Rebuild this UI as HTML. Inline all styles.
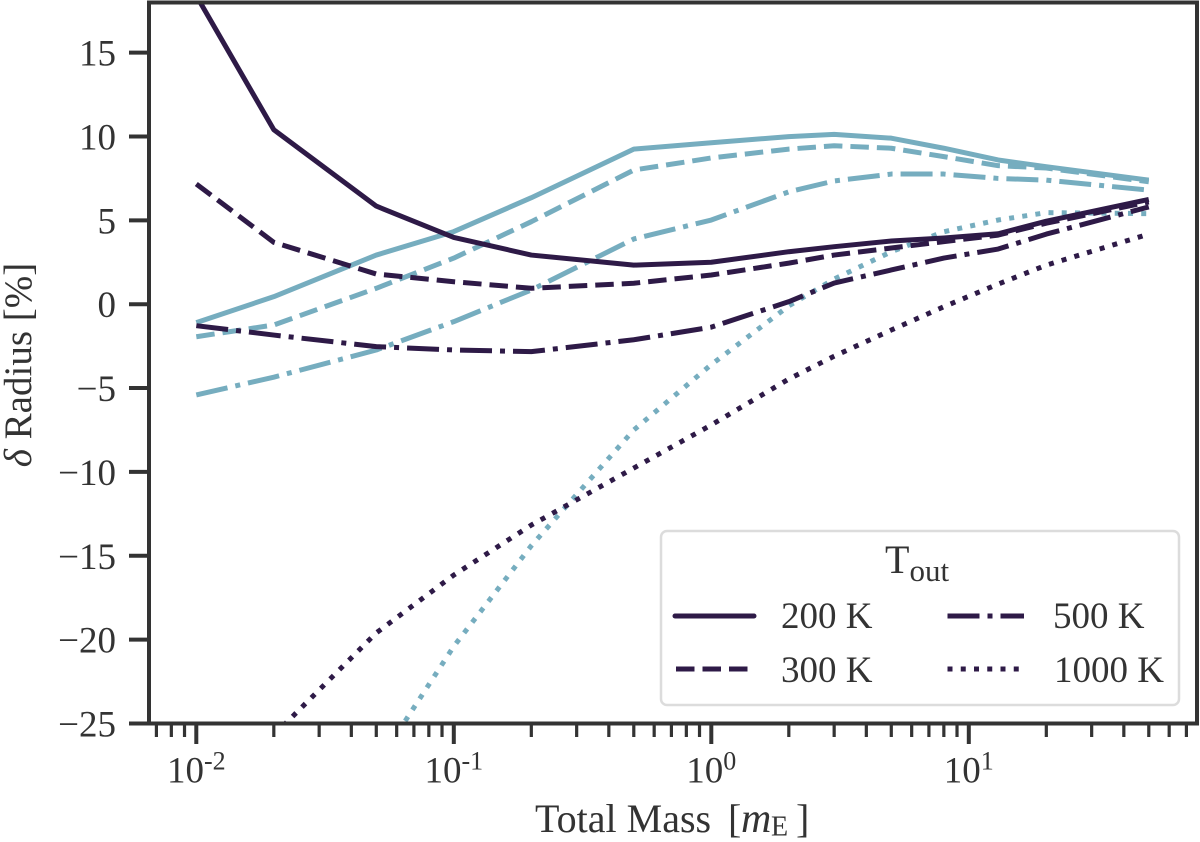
<!DOCTYPE html>
<html lang="en">
<head>
<meta charset="utf-8">
<title>Delta Radius vs Total Mass</title>
<style>
html,body{margin:0;padding:0;background:#fff;width:1200px;height:842px;overflow:hidden}
svg{display:block}
text{font-family:"Liberation Serif",serif;fill:#333}
</style>
</head>
<body>
<svg id="chart" xmlns="http://www.w3.org/2000/svg" width="1200" height="842" viewBox="0 0 1200 842">
<defs><clipPath id="plot-clip"><rect x="149" y="2.5" width="1048" height="721"/></clipPath></defs>
<rect x="0" y="0" width="1200" height="842" fill="#fff"/>
<g id="series" clip-path="url(#plot-clip)"></g>
<g id="ticks"></g>
<rect x="149" y="2.5" width="1048" height="721" fill="none" stroke="#333" stroke-width="4"/>
<text transform="translate(31,365) rotate(-90)" text-anchor="middle" font-size="39"><tspan font-style="italic">δ</tspan> Radius [%]</text>
<text x="535" y="832" font-size="40">Total Mass <tspan x="728">[</tspan><tspan font-style="italic" x="741" font-size="42">m</tspan><tspan font-size="28" x="771" y="835.5">E</tspan><tspan x="796" y="832">]</tspan></text>
<g>
<rect x="661" y="531" width="518" height="174" rx="6" fill="#fff" fill-opacity="0.9" stroke="#dcdcdc" stroke-width="2.5"/>
<text x="885" y="573" font-size="40">T<tspan font-size="31" dy="8">out</tspan></text>
<line x1="675" y1="616" x2="754" y2="616" stroke="#2e1a47" stroke-width="5" stroke-linecap="round"/>
<text x="781" y="628" font-size="37">200 K</text>
<line x1="676" y1="669" x2="750" y2="669" stroke="#2e1a47" stroke-width="5" stroke-dasharray="18.5 8"/>
<text x="781" y="682" font-size="37">300 K</text>
<line x1="947.5" y1="616" x2="1024" y2="616" stroke="#2e1a47" stroke-width="5" stroke-dasharray="32 8 5 8"/>
<text x="1053" y="628" font-size="37">500 K</text>
<line x1="947.5" y1="669" x2="1022" y2="669" stroke="#2e1a47" stroke-width="5" stroke-dasharray="5 8.25"/>
<text x="1054" y="682" font-size="37">1000 K</text>
</g>
</svg>
<script>
const masses = [0.01, 0.02, 0.05, 0.1, 0.2, 0.5, 1, 2, 3, 5, 8, 13, 20, 50];
const dark200 = [18.4, 10.4, 5.85, 3.98, 2.93, 2.33, 2.5, 3.13, 3.43, 3.77, 3.95, 4.2, 4.95, 6.25];
const dark300 = [7.17, 3.69, 1.8, 1.34, 0.95, 1.25, 1.74, 2.45, 2.93, 3.35, 3.73, 4.12, 4.83, 6.1];
const dark500 = [-1.28, -1.84, -2.53, -2.73, -2.83, -2.12, -1.37, 0.15, 1.26, 2.04, 2.75, 3.29, 4.18, 5.8];
const dark1000 = [null, -25.7, -19.6, -16.15, -13.17, -9.77, -7.2, -4.46, -3.1, -1.54, -0.15, 1.2, 2.33, 4.18];
const teal200 = [-1.1, 0.45, 2.93, 4.33, 6.35, 9.25, 9.63, 9.99, 10.13, 9.9, 9.3, 8.6, 8.2, 7.4];
const teal300 = [-1.94, -1.24, 0.95, 2.75, 4.92, 8.0, 8.72, 9.25, 9.45, 9.3, 8.8, 8.26, 8.12, 7.3];
const teal500 = [-5.41, -4.35, -2.73, -1.04, 0.85, 3.89, 5.02, 6.7, 7.35, 7.76, 7.76, 7.5, 7.4, 6.8];
const teal1000 = [null, null, -27.5, -20.4, -14.4, -7.5, -3.6, -0.1, 1.5, 3.13, 4.32, 5.02, 5.46, 5.4];
const yTickValues = [15, 10, 5, 0, -5, -10, -15, -20, -25];
const xDecades = [-2, -1, 0, 1];
const xMinorValues = [0.007, 0.008, 0.009, 0.02, 0.03, 0.04, 0.05, 0.06, 0.07, 0.08, 0.09, 0.2, 0.3, 0.4, 0.5, 0.6, 0.7, 0.8, 0.9, 2, 3, 4, 5, 6, 7, 8, 9, 20, 30, 40, 50, 60, 70];

const SVG_NS = 'http://www.w3.org/2000/svg';
const DARK = '#2e1a47';
const TEAL = '#76adbf';
const DASH = { solid: '', dashed: '18.5 8', dashdot: '32 8 5 8', dotted: '5 8.25' };

function xPos(m) { return 196.3 + 257.5 * (Math.log10(m) + 2); }
function yPos(v) { return 304.2 - 16.77 * v; }

function make(tag, attrs, parent) {
  const el = document.createElementNS(SVG_NS, tag);
  for (const k in attrs) el.setAttribute(k, attrs[k]);
  parent.appendChild(el);
  return el;
}

const seriesGroup = document.getElementById('series');
const tickGroup = document.getElementById('ticks');

function drawSeries(values, color, style, name) {
  const coords = [];
  values.forEach(function (v, i) {
    if (v !== null) coords.push(xPos(masses[i]).toFixed(2) + ',' + yPos(v).toFixed(2));
  });
  const line = make('polyline', { points: coords.join(' '), fill: 'none', stroke: color, 'stroke-width': 5, 'stroke-linejoin': 'round' }, seriesGroup);
  if (DASH[style]) line.setAttribute('stroke-dasharray', DASH[style]);
  
  
}

drawSeries(teal200, TEAL, 'solid', 'line-200k-teal');
drawSeries(teal300, TEAL, 'dashed', 'line-300k-teal');
drawSeries(teal500, TEAL, 'dashdot', 'line-500k-teal');
drawSeries(teal1000, TEAL, 'dotted', 'line-1000k-teal');
drawSeries(dark200, DARK, 'solid', 'line-200k-dark');
drawSeries(dark300, DARK, 'dashed', 'line-300k-dark');
drawSeries(dark500, DARK, 'dashdot', 'line-500k-dark');
drawSeries(dark1000, DARK, 'dotted', 'line-1000k-dark');

yTickValues.forEach(function (v) {
  const y = yPos(v);
  const t = make('line', { x1: 129, x2: 149, y1: y, y2: y, stroke: '#333', 'stroke-width': 4 }, tickGroup);
  
  
  const label = make('text', { x: 116, y: y + 13, 'text-anchor': 'end', 'font-size': 37 }, tickGroup);
  label.textContent = v < 0 ? '\u2212' + Math.abs(v) : String(v);
  
  
});

xDecades.forEach(function (d) {
  const x = xPos(Math.pow(10, d));
  const t = make('line', { x1: x, x2: x, y1: 723, y2: 744, stroke: '#333', 'stroke-width': 4 }, tickGroup);
  
  
  const label = make('text', { x: x, y: 782.5, 'text-anchor': 'middle', 'font-size': 37 }, tickGroup);
  
  
  label.appendChild(document.createTextNode('10'));
  const sup = make('tspan', { 'font-size': 26, dy: -13 }, label);
  sup.textContent = String(d);
});

xMinorValues.forEach(function (m) {
  const x = xPos(m);
  const t = make('line', { x1: x, x2: x, y1: 723, y2: 737, stroke: '#333', 'stroke-width': 3.2 }, tickGroup);
  
  
});
</script>
</body>
</html>
